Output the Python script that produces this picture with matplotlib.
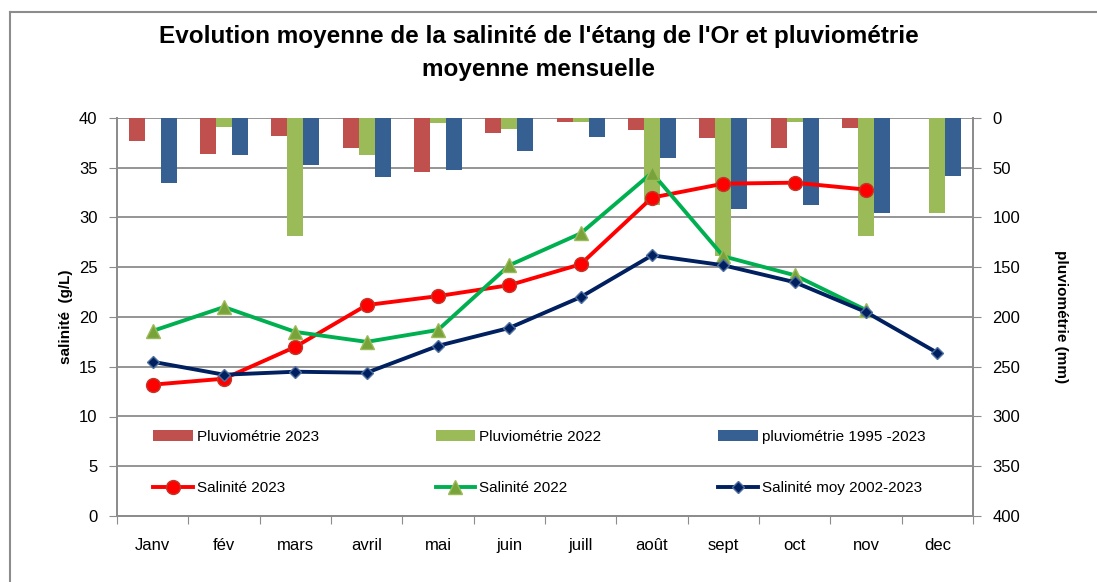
import numpy as np
import matplotlib
matplotlib.use("Agg")
import matplotlib.pyplot as plt
from matplotlib.lines import Line2D

# données
mois = ["Janv", "fév", "mars", "avril", "mai", "juin", "juill", "août", "sept", "oct", "nov", "dec"]

pluvio_2023 = [23, 36, 18, 30, 54, 15, 4, 12, 20, 30, 10, 0]
pluvio_2022 = [0, 9, 119, 37, 5, 11, 4, 87, 139, 4, 119, 95]
pluvio_moy = [65, 37, 47, 59, 52, 33, 19, 40, 91, 87, 95, 58]

sal_2023 = [13.2, 13.8, 17.0, 21.2, 22.1, 23.2, 25.3, 32.0, 33.4, 33.5, 32.8]
sal_2022 = [18.6, 21.0, 18.5, 17.5, 18.7, 25.2, 28.4, 34.5, 26.1, 24.2, 20.7]
sal_moy = [15.5, 14.2, 14.5, 14.4, 17.1, 18.9, 22.0, 26.2, 25.2, 23.5, 20.5, 16.4]

plt.rcParams["font.family"] = ["Liberation Sans", "DejaVu Sans"]

fig = plt.figure(figsize=(10.97, 5.82), dpi=100)
ax = fig.add_axes([117 / 1097, 66 / 582, 856 / 1097, 398 / 582])
ax2 = ax.twinx()

x = np.arange(len(mois))
w = 0.225
c_red, c_green, c_blue = "#C0504D", "#9BBB59", "#376092"

# barres (axe de droite, inversé)
b1 = ax2.bar(x - w, pluvio_2023, w, color=c_red, label="Pluviométrie 2023")
b2 = ax2.bar(x, pluvio_2022, w, color=c_green, label="Pluviométrie 2022")
b3 = ax2.bar(x + w, pluvio_moy, w, color=c_blue, label="pluviométrie 1995 -2023")
ax2.set_ylim(400, 0)
ax2.set_yticks(np.arange(0, 401, 50))
ax2.grid(axis="y", color="#8c8c8c", linewidth=1.3)
ax2.set_axisbelow(True)

# courbes de salinité (axe de gauche)
l1, = ax.plot(x[:len(sal_2023)], sal_2023, color="#FF0000", lw=2.8, marker="o", ms=10,
              mfc="#FF0000", mec="#C0392B", label="Salinité 2023")
l2, = ax.plot(x[:len(sal_2022)], sal_2022, color="#00B050", lw=2.8, marker="^", ms=10,
              mfc="#77A33A", mec="#9BBB59", label="Salinité 2022")
l3, = ax.plot(x, sal_moy, color="#002060", lw=2.8, marker="D", ms=6.5,
              mfc="#002060", mec="#4F6FA0", label="Salinité moy 2002-2023")
ax.set_ylim(0, 40)
ax.set_yticks(np.arange(0, 41, 5))
ax.set_xlim(-0.5, len(mois) - 0.5)
ax.set_zorder(ax2.get_zorder() + 1)
ax.patch.set_visible(False)

# graduations de l'axe des x entre les mois
ax.set_xticks(np.arange(-0.5, len(mois), 1))
ax.set_xticklabels([])
ax.set_xticks(x, minor=True)
ax.set_xticklabels(mois, minor=True, fontsize=12)
ax.tick_params(axis="x", which="major", length=6, color="#8c8c8c", direction="out")
ax.tick_params(axis="x", which="minor", length=0, pad=16)
ax.tick_params(axis="y", length=6, color="#8c8c8c", labelsize=12, pad=8)
ax2.tick_params(axis="y", length=6, color="#8c8c8c", labelsize=12, pad=8)

for a in (ax, ax2):
    for s in a.spines.values():
        s.set_color("#8c8c8c")
        s.set_linewidth(1.3)
    a.spines["top"].set_visible(False)

ax.set_ylabel("salinité  (g/L)", fontsize=11, fontweight="bold", labelpad=4)
ax2.set_ylabel("pluviométrie (mm)", fontsize=11, fontweight="bold", rotation=270, labelpad=34)

fig.text(0.491, 0.938, "Evolution moyenne de la salinité de l'étang de l'Or et pluviométrie",
         ha="center", va="center", fontsize=17.5, fontweight="bold")
fig.text(0.491, 0.881, "moyenne mensuelle", ha="center", va="center",
         fontsize=17.5, fontweight="bold")

handles = [b1, l1, b2, l2, b3, l3]
leg = ax.legend(handles, [h.get_label() for h in handles], ncol=3, loc="upper left",
                bbox_to_anchor=(0.035, 0.232), frameon=False, fontsize=11,
                handlelength=2.6, handletextpad=0.25, columnspacing=7.65,
                labelspacing=2.45, borderaxespad=0)

# cadre gris du graphique
fig.add_artist(Line2D([10 / 1097, 1], [1 - 12 / 582] * 2, color="#8c8c8c", lw=1.5))
fig.add_artist(Line2D([10 / 1097] * 2, [0, 1 - 12 / 582], color="#8c8c8c", lw=1.5))

fig.savefig("out.png", dpi=100)
